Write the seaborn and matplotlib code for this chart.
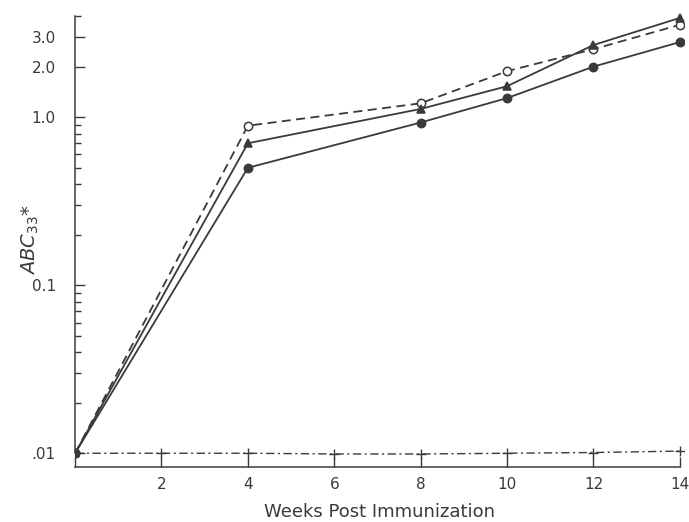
"""ABC33 titre over weeks post immunization (log scale)."""

import matplotlib

matplotlib.use("Agg")
import matplotlib.pyplot as plt
import pandas as pd
import seaborn as sns
from matplotlib.ticker import FixedLocator, NullFormatter

WEEKS = [0, 4, 8, 10, 12, 14]
OPEN_CIRCLE = [0.01, 0.89, 1.21, 1.88, 2.54, 3.55]
TRIANGLE = [0.01, 0.70, 1.12, 1.53, 2.69, 3.90]
FILLED_CIRCLE = [0.01, 0.50, 0.93, 1.30, 2.00, 2.80]

CONTROL_WEEKS = [0, 2, 4, 6, 8, 10, 12, 14]
CONTROL = [0.0100, 0.0100, 0.0100, 0.0099, 0.0099, 0.0100, 0.0101, 0.0103]

Y_MAJOR = [0.01, 0.1, 1.0, 2.0, 3.0]
Y_MAJOR_LABELS = [".01", "0.1", "1.0", "2.0", "3.0"]
Y_MINOR = [0.02, 0.03, 0.04, 0.05, 0.06, 0.07, 0.08, 0.09,
           0.2, 0.3, 0.4, 0.5, 0.6, 0.7, 0.8, 0.9, 4.0]
X_TICKS = [0, 2, 4, 6, 8, 10, 12, 14]
X_LABELS = ["", "2", "4", "6", "8", "10", "12", "14"]

INK = "#3a3a3a"


def main() -> None:
    sns.set_theme(style="ticks")
    plt.rcParams["font.family"] = ["DejaVu Sans"]

    fig = plt.figure(figsize=(6.89, 5.22), dpi=100)
    ax = fig.add_axes([0.109, 0.105, 0.884, 0.870])

    series = [
        (OPEN_CIRCLE, "o", "white", (5, 3)),
        (TRIANGLE, "^", INK, None),
        (FILLED_CIRCLE, "o", INK, None),
    ]
    for values, marker, face, dash in series:
        df = pd.DataFrame({"week": WEEKS, "abc": values})
        sns.lineplot(
            data=df, x="week", y="abc", ax=ax, color=INK, linewidth=1.3,
            marker=marker, markersize=6, markerfacecolor=face,
            markeredgecolor=INK, markeredgewidth=1.1,
        )
        if dash:
            ax.lines[-1].set_dashes(dash)

    ctrl = pd.DataFrame({"week": CONTROL_WEEKS, "abc": CONTROL})
    sns.lineplot(
        data=ctrl, x="week", y="abc", ax=ax, color=INK, linewidth=1.0,
        marker="+", markersize=7, markeredgewidth=1.0, markeredgecolor=INK,
    )
    ax.lines[-1].set_dashes((6, 2.5, 1.5, 2.5))

    ax.set_yscale("log")
    ax.set_ylim(10 ** -2.083, 10 ** 0.62)
    ax.set_xlim(0, 14.1)

    ax.yaxis.set_major_locator(FixedLocator(Y_MAJOR))
    ax.set_yticklabels(Y_MAJOR_LABELS)
    ax.yaxis.set_minor_locator(FixedLocator(Y_MINOR))
    ax.yaxis.set_minor_formatter(NullFormatter())
    ax.set_xticks(X_TICKS)
    ax.set_xticklabels(X_LABELS)

    ax.tick_params(axis="both", which="major", direction="in", length=7,
                   width=1.0, colors=INK, labelsize=11)
    ax.tick_params(axis="y", which="major", pad=14)
    ax.tick_params(axis="x", which="major", pad=7)
    ax.tick_params(axis="y", which="minor", direction="in", length=4,
                   width=1.0, colors=INK)

    sns.despine(ax=ax)
    for side in ("left", "bottom"):
        ax.spines[side].set_color(INK)
        ax.spines[side].set_linewidth(1.1)
    ax.spines["left"].set_bounds(0.01, 4.0)
    ax.spines["bottom"].set_bounds(0, 14)

    ax.set_xlabel("Weeks Post Immunization", fontsize=13, color=INK, labelpad=8)
    ax.set_ylabel(r"$ABC_{33}$*", fontsize=14, color=INK)
    ax.yaxis.set_label_coords(-0.056, 0.5)
    ax.grid(False)

    fig.savefig("out.png", dpi=100)
    plt.close(fig)


if __name__ == "__main__":
    main()
